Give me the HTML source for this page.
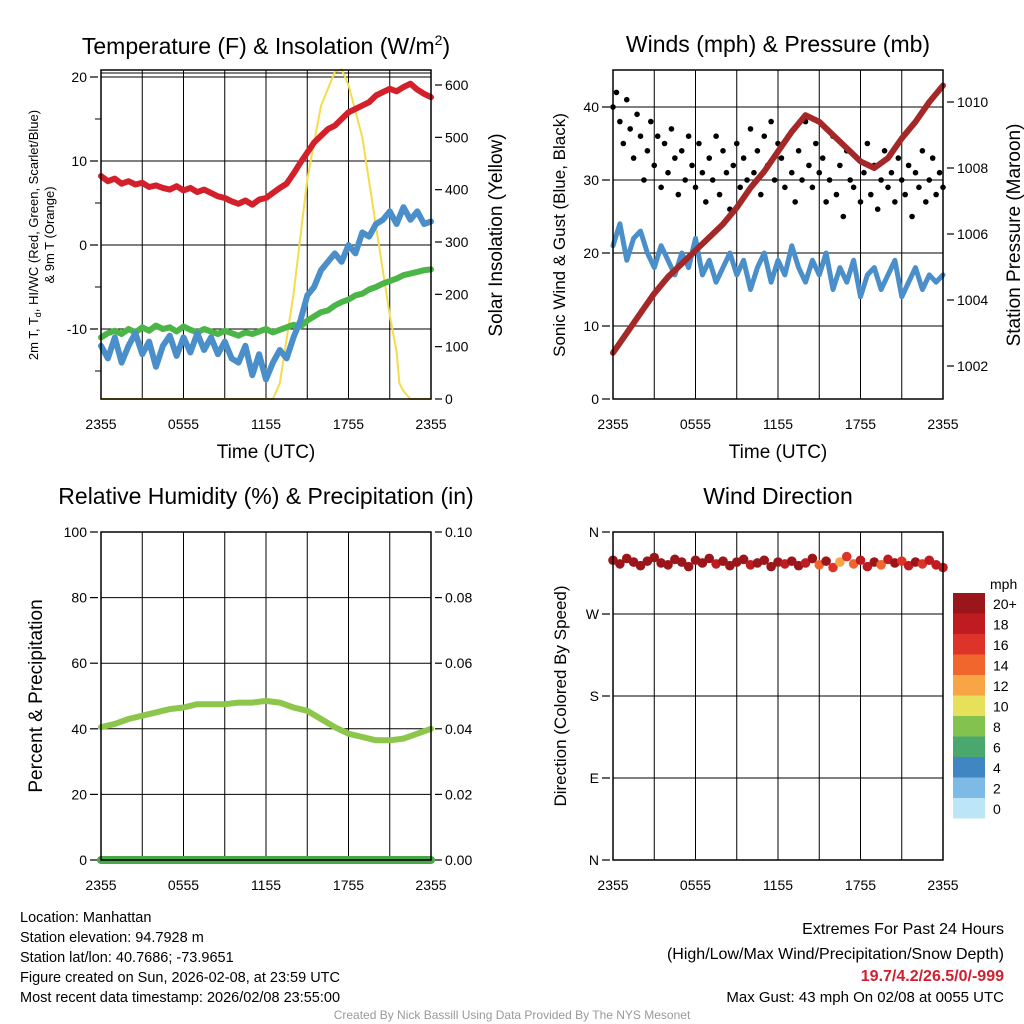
<!DOCTYPE html>
<html><head><meta charset="utf-8">
<style>
html,body{margin:0;padding:0;background:#fff;}
svg{display:block;font-family:"Liberation Sans",sans-serif;}
</style></head>
<body>
<svg id="fig" width="1024" height="1024" viewBox="0 0 1024 1024" xmlns="http://www.w3.org/2000/svg">
<rect width="1024" height="1024" fill="#fff"/>
<!-- titles -->
<text x="266" y="54" font-size="23" text-anchor="middle">Temperature (F) &amp; Insolation (W/m<tspan font-size="14" dy="-9">2</tspan><tspan dy="9">)</tspan></text>
<text x="778" y="52" font-size="23" text-anchor="middle">Winds (mph) &amp; Pressure (mb)</text>
<text x="266" y="504" font-size="23" text-anchor="middle">Relative Humidity (%) &amp; Precipitation (in)</text>
<text x="778" y="504" font-size="23" text-anchor="middle">Wind Direction</text>
<!-- axis titles -->
<text transform="translate(38,235) rotate(-90)" font-size="13" text-anchor="middle">2m T, T<tspan font-size="9" dy="3">d</tspan><tspan dy="-3">, HI/WC (Red, Green, Scarlet/Blue)</tspan></text>
<text transform="translate(54,235) rotate(-90)" font-size="13" text-anchor="middle">&amp; 9m T (Orange)</text>
<text transform="translate(502,235) rotate(-90)" font-size="19" text-anchor="middle">Solar Insolation (Yellow)</text>
<text x="266" y="458" font-size="19" text-anchor="middle">Time (UTC)</text>
<text transform="translate(565,235) rotate(-90)" font-size="17" text-anchor="middle">Sonic Wind &amp; Gust (Blue, Black)</text>
<text transform="translate(1020,235) rotate(-90)" font-size="19" text-anchor="middle">Station Pressure (Maroon)</text>
<text x="778" y="458" font-size="19" text-anchor="middle">Time (UTC)</text>
<text transform="translate(42,696) rotate(-90)" font-size="19" text-anchor="middle">Percent &amp; Precipitation</text>
<text transform="translate(566,696) rotate(-90)" font-size="17" text-anchor="middle">Direction (Colored By Speed)</text>
<!-- footer -->
<g font-size="14.5">
<text x="20" y="922">Location: Manhattan</text>
<text x="20" y="942">Station elevation: 94.7928 m</text>
<text x="20" y="962">Station lat/lon: 40.7686; -73.9651</text>
<text x="20" y="982">Figure created on Sun, 2026-02-08, at 23:59 UTC</text>
<text x="20" y="1002">Most recent data timestamp: 2026/02/08 23:55:00</text>
</g>
<g text-anchor="end">
<text x="1004" y="934" font-size="16">Extremes For Past 24 Hours</text>
<text x="1004" y="959" font-size="16">(High/Low/Max Wind/Precipitation/Snow Depth)</text>
<text x="1004" y="981" font-size="16" font-weight="bold" fill="#d02030">19.7/4.2/26.5/0/-999</text>
<text x="1004" y="1002" font-size="15">Max Gust: 43 mph On 02/08 at 0055 UTC</text>
</g>
<text x="512" y="1019" font-size="12" fill="#999" text-anchor="middle">Created By Nick Bassill Using Data Provided By The NYS Mesonet</text>
<g id="plots"></g>
</svg>
<script>
// ---------- data ----------
const xTickLabels = ["2355","0555","1155","1755","2355"];
const xTickHours = [0,6,12,18,24];
const tempRed = [8.2,7.6,7.9,7.3,7.6,7.2,7.4,6.9,7.1,6.8,6.6,7.0,6.5,6.8,6.3,6.6,6.2,5.8,5.6,5.2,4.9,5.3,4.8,5.4,5.6,6.2,6.8,7.3,8.5,9.8,11.0,12.2,13.0,13.8,14.2,15.0,15.8,16.2,16.6,17.0,17.8,18.2,18.6,18.3,18.8,19.2,18.5,18.0,17.6];
const tempBlue = [-12,-13.5,-11,-14,-12,-10.5,-13,-11.5,-14.5,-12,-10.8,-13.2,-11,-12.8,-10.5,-12.5,-11,-13,-11.5,-13.5,-14,-12,-15.5,-13,-16,-14,-12.5,-13.5,-11,-9,-6,-5,-3,-2,-1,-2,0,-1,1.5,1,2.5,3,4,2.5,4.5,3,4,2.5,2.8];
const tempGreen = [-11,-10.5,-10.2,-10.6,-10,-10.4,-9.8,-10.2,-9.6,-10,-9.8,-10.3,-9.7,-10.1,-10.4,-10,-10.3,-10.6,-10.2,-10.5,-10.8,-10.4,-10.6,-10.3,-10,-10.4,-10.1,-9.8,-9.5,-9.7,-9,-8.5,-8,-7.8,-7.2,-6.8,-6.5,-6,-5.8,-5.3,-5,-4.6,-4.3,-4,-3.6,-3.4,-3.2,-3,-2.9];
const tempTicks = [-10,0,10,20];
const solarHours = [0,12.5,13,14,15,16,17,17.5,18,19,20,21,21.5,21.7,22,22.5,24];
const solarValues = [0,0,30,200,420,560,625,630,600,500,330,160,90,30,15,0,0];
const solarTicks = [0,100,200,300,400,500,600];
const windSpeed = [21,24,19,22,23,20,18,21,19,17,20,18,22,17,19,16,18,20,17,19,15,18,20,16,19,17,21,18,16,19,17,20,15,18,16,19,14,17,18,15,17,19,14,16,18,15,17,16,17];
const windGust = [40,42,38,35,41,37,33,39,36,30,34,38,32,36,29,35,31,37,33,28,34,30,36,32,29,35,31,27,33,30,36,28,34,31,26,32,35,29,33,30,37,31,34,28,36,32,38,30,35,33,29,36,31,27,34,30,38,32,29,35,31,33,27,30,36,28,32,25,34,30,29,33,27,31,35,28,32,26,30,34,29,31,27,33,30,28,32,25,31,29,34,27,30,33,28,31,29];
const windTicks = [0,10,20,30,40];
const pressure = [1002.4,1003.0,1003.6,1004.2,1004.7,1005.1,1005.5,1005.9,1006.3,1006.8,1007.4,1007.9,1008.5,1009.1,1009.6,1009.4,1009.0,1008.6,1008.2,1008.0,1008.3,1008.9,1009.4,1010.0,1010.5];
const pressureTicks = [1002,1004,1006,1008,1010];
const rhValues = [40.5,41.5,43,44,45,46,46.5,47.5,47.5,47.5,48,48,48.5,48,46.5,45.5,43,40.5,38.5,37.5,36.5,36.5,37,38.5,40];
const precipValues = [0,0,0,0,0,0,0,0,0,0,0,0,0,0,0,0,0,0,0,0,0,0,0,0,0];
const rhTicks = [0,20,40,60,80,100];
const precipTicks = ["0.00","0.02","0.04","0.06","0.08","0.10"];
const windDir = [329,325,331,327,323,328,332,326,324,330,327,322,329,326,331,325,328,323,327,330,324,326,329,322,327,325,328,323,326,331,324,328,321,327,333,325,329,322,327,324,330,326,328,323,327,325,329,324,321];
const dirSpeed = [22,25,21,23,24,22,21,23,21,20,22,21,24,20,21,19,21,22,20,21,19,21,22,20,21,19,23,21,19,21,14,22,16,12,17,15,18,19,20,15,19,21,16,18,20,17,19,18,19];
const dirTicks = [0,90,180,270,360];
const dirTickLabels = ["N","E","S","W","N"];
const cbarLabels = ["20+","18","16","14","12","10","8","6","4","2","0"];
const cbarColors = ["#9a161b","#bf1c22","#dd3328","#f0662c","#f8a545","#e6e05a","#83c24f","#4aa86f","#3f86c3","#7dbbe6","#bde5f8"];

// ---------- helpers ----------
const NS="http://www.w3.org/2000/svg";
const root=document.getElementById('plots');
function mk(tag,attrs,parent){const e=document.createElementNS(NS,tag);for(const k in attrs)e.setAttribute(k,attrs[k]);(parent||root).appendChild(e);return e;}
function lin(d0,d1,r0,r1){return v=>r0+(v-d0)*(r1-r0)/(d1-d0);}
function hoursOf(arr){return arr.map((_,i)=>i*24/(arr.length-1));}

function panel(name,x0,x1,y0,y1){
  const g=mk('g',{});
  
  
  const xs=lin(0,24,x0,x1);
  for(let h=3;h<24;h+=3){const l=mk('line',{x1:xs(h),x2:xs(h),y1:y0,y2:y1,stroke:'#000','stroke-width':1},g);}
  xTickHours.forEach((h,i)=>{
    const t=mk('text',{x:xs(h),y:y1+30,'font-size':14,'text-anchor':'middle'},g);t.textContent=xTickLabels[i];
    
  });
  return {g,xs};
}
function frame(g,x0,x1,y0,y1){
  const r=mk('rect',{x:x0,y:y0,width:x1-x0,height:y1-y0,fill:'none',stroke:'#000','stroke-width':1.5},g);
  
}
function hgrid(g,x0,x1,y){
  const l=mk('line',{x1:x0,x2:x1,y1:y,y2:y,stroke:'#000','stroke-width':1},g);
  
}
function ylabel(g,x,y,txt,anchor,name){
  const t=mk('text',{x:x,y:y+5,'font-size':14,'text-anchor':anchor},g);t.textContent=txt;
  
  mk('line',{x1:anchor==='end'?x+3:x-10,x2:anchor==='end'?x+11:x-3,y1:y,y2:y,stroke:'#000','stroke-width':1.2},g);
}
function path(g,xs,ys,hours,vals,stroke,w,name){
  const d=vals.map((v,i)=>(i?'L':'M')+xs(hours[i]).toFixed(1)+','+ys(v).toFixed(1)).join('');
  const p=mk('path',{d:d,fill:'none',stroke:stroke,'stroke-width':w,'stroke-linejoin':'round','stroke-linecap':'round'},g);
  
}

// ---------- panel 1: temperature ----------
{
  const X0=101,X1=431,Y0=70,Y1=399;
  const {g,xs}=panel('temperature-panel',X0,X1,Y0,Y1);
  const ys=lin(0,10,245,161);
  const ysol=lin(0,600,399,85);
  tempTicks.forEach(v=>{hgrid(g,X0,X1,ys(v));ylabel(g,X0-14,ys(v),String(v),'end','temp-tick-label');});
  [-15,-5,5,15].forEach(v=>mk('line',{x1:X0-6,x2:X0,y1:ys(v),y2:ys(v),stroke:'#000'},g));
  solarTicks.forEach(v=>ylabel(g,X1+14,ysol(v),String(v),'start','solar-tick-label'));
  mk('line',{x1:X0,x2:X1,y1:73,y2:73,stroke:'#000'},g);
  path(g,xs,ysol,solarHours,solarValues,'#f5dd4a',2,'solar-insolation-line');
  path(g,xs,ys,hoursOf(tempGreen),tempGreen,'#4cb548',6,'dewpoint-line');
  path(g,xs,ys,hoursOf(tempBlue),tempBlue,'#4a8fca',6,'wind-chill-line');
  path(g,xs,ys,hoursOf(tempRed),tempRed,'#d4202a',6,'temperature-line');
  frame(g,X0,X1,Y0,Y1);
}
// ---------- panel 2: winds ----------
{
  const X0=613,X1=943,Y0=70,Y1=399;
  const {g,xs}=panel('winds-panel',X0,X1,Y0,Y1);
  const ys=lin(0,40,399,107);
  const yp=lin(1002,1010,366,102);
  windTicks.forEach(v=>{if(v>0)hgrid(g,X0,X1,ys(v));ylabel(g,X0-14,ys(v),String(v),'end','wind-tick-label');});
  pressureTicks.forEach(v=>ylabel(g,X1+14,yp(v),String(v),'start','pressure-tick-label'));
  path(g,xs,ys,hoursOf(windSpeed),windSpeed,'#4a8fca',5,'sonic-wind-line');
  const gh=hoursOf(windGust);
  windGust.forEach((v,i)=>{
    const c=mk('circle',{cx:xs(gh[i]),cy:ys(v),r:2.8,fill:'#000'},g);
    
    
  });
  path(g,xs,yp,hoursOf(pressure),pressure,'#a52828',6,'pressure-line');
  frame(g,X0,X1,Y0,Y1);
}
// ---------- panel 3: RH ----------
{
  const X0=101,X1=431,Y0=532,Y1=860;
  const {g,xs}=panel('humidity-panel',X0,X1,Y0,Y1);
  const ys=lin(0,100,860,532);
  const yp=lin(0,0.10,860,532);
  rhTicks.forEach(v=>{hgrid(g,X0,X1,ys(v));ylabel(g,X0-14,ys(v),String(v),'end','rh-tick-label');});
  precipTicks.forEach(v=>ylabel(g,X1+14,yp(parseFloat(v)),v,'start','precip-tick-label'));
  path(g,xs,ys,hoursOf(rhValues),rhValues,'#8cc64a',6,'relative-humidity-line');
  path(g,xs,yp,hoursOf(precipValues),precipValues,'#4aa84a',8,'precipitation-line');
  frame(g,X0,X1,Y0,Y1);
}
// ---------- panel 4: wind direction ----------
{
  const X0=613,X1=943,Y0=532,Y1=860;
  const {g,xs}=panel('wind-direction-panel',X0,X1,Y0,Y1);
  const ys=lin(0,360,860,532);
  dirTicks.forEach((v,i)=>{hgrid(g,X0,X1,ys(v));ylabel(g,X0-14,ys(v),dirTickLabels[i],'end','direction-tick-label');});
  const dh=hoursOf(windDir);
  windDir.forEach((v,i)=>{
    const bin=Math.min(10,Math.floor(dirSpeed[i]/2));
    const c=mk('circle',{cx:xs(dh[i]),cy:ys(v),r:4.8,fill:cbarColors[10-bin]},g);
    
    
  });
  frame(g,X0,X1,Y0,Y1);
  const cb=mk('g',{});
  
  
  const t=mk('text',{x:990,y:589,'font-size':14},cb);t.textContent='mph';
  cbarColors.forEach((c,i)=>{
    const r=mk('rect',{x:953,y:593+i*20.5,width:32,height:20.5,fill:c},cb);
    
    
    const l=mk('text',{x:993,y:609+i*20.5,'font-size':14},cb);l.textContent=cbarLabels[i];
    
    
  });
}
</script>
</body></html>
